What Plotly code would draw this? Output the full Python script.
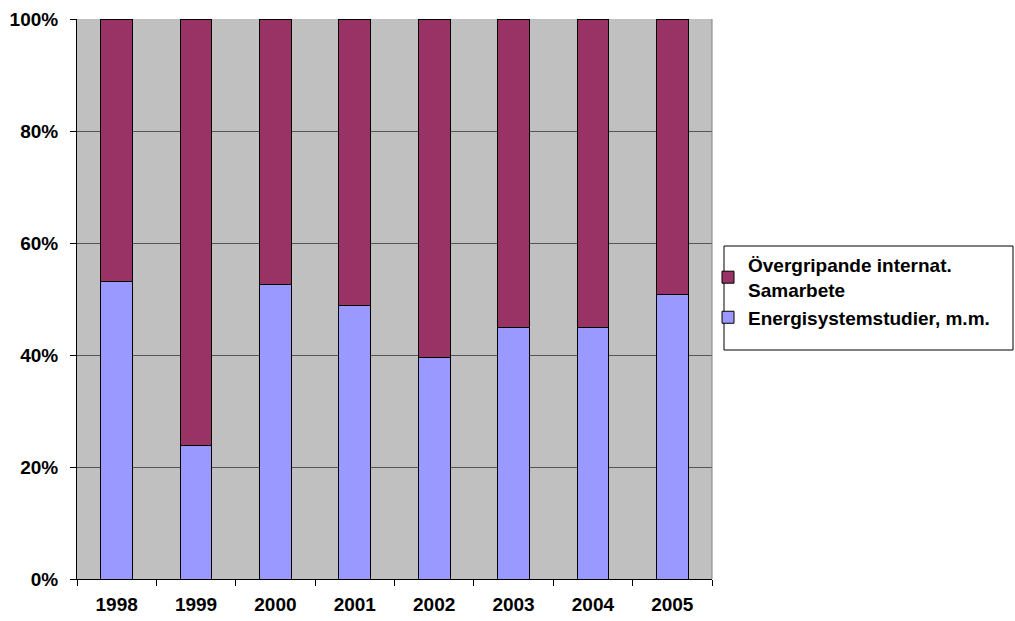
import plotly.graph_objects as go

years = ["1998", "1999", "2000", "2001", "2002", "2003", "2004", "2005"]
energi = [53.2, 23.8, 52.6, 48.8, 39.5, 44.9, 45.0, 50.8]
overgripande = [round(100 - v, 1) for v in energi]
y_ticks = [0, 20, 40, 60, 80, 100]
y_labels = ["0%", "20%", "40%", "60%", "80%", "100%"]

FONT = "Liberation Sans, Arial, sans-serif"

def f(size=19):
    return dict(family=FONT, size=size, color="black", weight="bold")

fig = go.Figure()
fig.add_trace(go.Bar(
    x=years, y=energi, name="Energisystemstudier, m.m.",
    marker=dict(color="#9999FF", line=dict(color="#000000", width=1)),
    width=0.4,
))
fig.add_trace(go.Bar(
    x=years, y=overgripande, name="Övergripande internat.<br>Samarbete",
    marker=dict(color="#993366", line=dict(color="#000000", width=1)),
    width=0.4,
))

L, R, T, B = 77, 303, 19, 42
W, H = 1015, 621
pw = W - L - R
ph = H - T - B

fig.update_layout(
    width=W, height=H,
    barmode="stack",
    margin=dict(l=L, r=R, t=T, b=B),
    paper_bgcolor="white",
    plot_bgcolor="#C0C0C0",
    font=f(),
    showlegend=True,
    legend=dict(
        traceorder="reversed",
        x=(708 - L) / pw, xanchor="left",
        y=(H - B - 246) / ph, yanchor="top",
        bgcolor="rgba(0,0,0,0)",
        font=f(19),
        tracegroupgap=1,
    ),
    xaxis=dict(
        type="category",
        tickson="boundaries",
        ticks="outside", ticklen=6, tickcolor="black",
        showline=True, linecolor="black", linewidth=1,
        showgrid=False,
        tickfont=f(19),
        ticklabelstandoff=8,
        automargin=False,
        range=[-0.5, 7.5],
    ),
    yaxis=dict(
        range=[0, 100],
        tickvals=y_ticks, ticktext=y_labels,
        ticks="outside", ticklen=6, tickcolor="black",
        showline=True, linecolor="black", linewidth=1,
        showgrid=True, gridcolor="#555555", gridwidth=1,
        zeroline=False,
        tickfont=f(19),
        ticklabelstandoff=8,
        automargin=False,
    ),
    shapes=[
        dict(type="line", xref="paper", yref="paper", x0=1, x1=1, y0=0, y1=1,
             line=dict(color="#808080", width=1)),
        dict(type="rect", xref="paper", yref="paper",
             x0=(724 - L) / pw, x1=(1013 - L) / pw,
             y0=(H - B - 350) / ph, y1=(H - B - 246) / ph,
             line=dict(color="black", width=1), fillcolor="rgba(0,0,0,0)"),
    ],
    bargap=0.6,
)

fig.write_html("out.html")
